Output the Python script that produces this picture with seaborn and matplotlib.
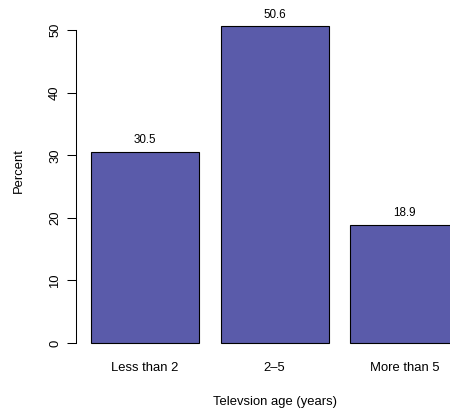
import seaborn as sns
import matplotlib
matplotlib.use("Agg")
import matplotlib.pyplot as plt
import pandas as pd

# data
categories = ["Less than 2", "2\u20135", "More than 5"]
percents = [30.5, 50.6, 18.9]
y_ticks = [0, 10, 20, 30, 40, 50]

df = pd.DataFrame({"age": categories, "percent": percents})

sns.set_style("white")
plt.rcParams["font.family"] = ["Liberation Sans", "DejaVu Sans"]
plt.rcParams["text.color"] = "black"
plt.rcParams["axes.labelcolor"] = "black"
plt.rcParams["xtick.color"] = "black"
plt.rcParams["ytick.color"] = "black"

fig = plt.figure(figsize=(4.5, 4.15), dpi=100)
# plot region runs off the top and right edge, like the cropped R output
ax = fig.add_axes([0.1696, 0.1402, 0.8815, 0.8959])

sns.barplot(data=df, x="age", y="percent", color="#5A5BAA", saturation=1,
            width=1 / 1.2, edgecolor="black", linewidth=0.8, ax=ax)

ax.set_xlim(-0.53, 2.53)
ax.set_ylim(-2.2, 57.2)

# R style axes: only a left axis line from 0 to 50
for side in ["top", "right", "bottom"]:
    ax.spines[side].set_visible(False)
ax.spines["left"].set_bounds(0, 50)
ax.spines["left"].set_linewidth(0.75)
ax.spines["left"].set_color("black")

ax.set_yticks(y_ticks)
ax.set_yticklabels([str(t) for t in y_ticks], rotation=90, va="center")
ax.tick_params(axis="y", length=6.5, width=0.75, color="black", pad=4.5,
               labelsize=9.4, left=True)
ax.tick_params(axis="x", length=0, pad=4, labelsize=9.4)

# value labels above each bar
for i, v in enumerate(percents):
    ax.annotate(f"{v:.1f}", (i, v), xytext=(0, 8.4), textcoords="offset points",
                ha="center", va="center", fontsize=8.4)

ax.set_xlabel("Televsion age (years)", fontsize=9.4)
ax.set_ylabel("Percent", fontsize=9.4)
ax.xaxis.set_label_coords(0.5, -0.1216)
ax.xaxis.label.set_verticalalignment("center")
ax.yaxis.set_label_coords(-0.1444, 0.5)
ax.yaxis.label.set_verticalalignment("center")

fig.savefig("out.png", dpi=100)
